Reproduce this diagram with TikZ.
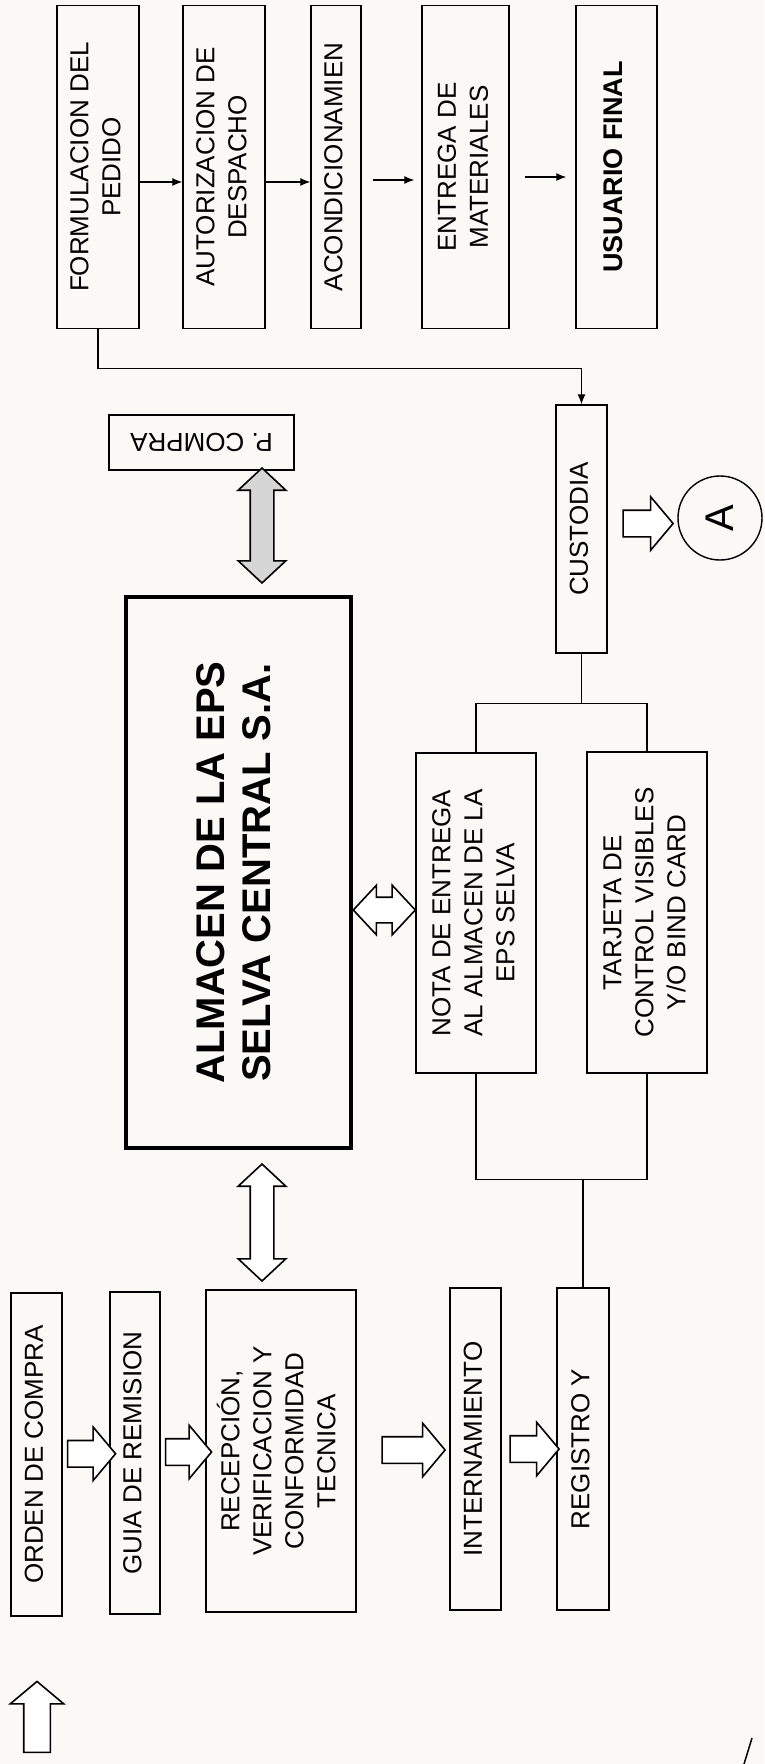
\documentclass[tikz,border=0pt]{standalone}
\usepackage{fontspec}
\setmainfont{Liberation Sans}
\usepackage{graphicx}
\usetikzlibrary{calc,shapes.arrows,arrows.meta}
\definecolor{papel}{RGB}{250,249,246}
\definecolor{grisfl}{RGB}{214,214,214}
\newcommand{\vtexto}[1]{\rotatebox{90}{\begin{tabular}{@{}c@{}}#1\end{tabular}}}
\begin{document}
\begin{tikzpicture}[x=1pt,y=-1pt]
\tikzstyle{caja} = [draw,line width=1.4pt,inner sep=0pt,font=\fontsize{26}{32}\selectfont] %cajas de texto
\tikzstyle{linea} = [line width=1.3pt]
\tikzstyle{punta} = [-{Latex[length=10pt,width=8pt]}]
\tikzstyle{flecha} = [draw,line width=1.6pt,fill=white,single arrow,single arrow head extend=13.5pt,single arrow tip angle=100,inner xsep=0pt,inner ysep=12.5pt]
\tikzstyle{dflecha} = [draw,line width=1.6pt,fill=white,double arrow,double arrow head extend=12pt,double arrow tip angle=94,inner xsep=0pt,inner ysep=11pt]
%fondo
\fill[papel] (0,0) rectangle (764,1764);
\useasboundingbox (0,0) rectangle (764,1764);
%fila de arriba
\node[caja,minimum width=82pt,minimum height=323pt] (formulacion) at (98,167) {\vtexto{FORMULACION DEL\\PEDIDO}};
\node[caja,minimum width=82pt,minimum height=323pt] (autorizacion) at (224,167) {\vtexto{AUTORIZACION DE\\DESPACHO}};
\node[caja,minimum width=50pt,minimum height=323pt] (acondicion) at (336,167) {\vtexto{ACONDICIONAMIEN}};
\node[caja,minimum width=87pt,minimum height=323pt] (entrega) at (465.5,167) {\vtexto{ENTREGA DE\\MATERIALES}};
\node[caja,minimum width=81pt,minimum height=323pt,font=\fontsize{27}{32}\selectfont\bfseries] (usuario) at (616.5,167) {\vtexto{USUARIO FINAL}};
\draw[linea,punta] ($(formulacion.east)+(0,15)$) -- ($(autorizacion.west)+(0,15)$);
\draw[linea,punta] ($(autorizacion.east)+(0,15)$) -- ($(acondicion.west)+(0,15)$);
\draw[linea,punta,shorten <=11pt,shorten >=7pt] ($(acondicion.east)+(0,13)$) -- ($(entrega.west)+(0,13)$);
\draw[linea,punta,shorten <=15pt,shorten >=9pt] ($(entrega.east)+(0,10)$) -- ($(usuario.west)+(0,10)$);
%almacen y documentos
\node[caja,minimum width=185pt,minimum height=55pt] (pcompra) at (201.5,442.5) {\rotatebox{180}{P. COMPRA}};
\node[caja,line width=4pt,minimum width=225pt,minimum height=551pt,font=\fontsize{40}{46}\selectfont\bfseries] (almacen) at (238.5,872.5) {\vtexto{ALMACEN DE LA EPS\\SELVA CENTRAL S.A.}};
\node[caja,minimum width=51pt,minimum height=248pt] (custodia) at (581.5,529) {\vtexto{CUSTODIA}};
\node[draw,circle,line width=1.4pt,minimum size=84pt,inner sep=0pt,font=\fontsize{40}{40}\selectfont] (conA) at (720,518) {\rotatebox{90}{A}};
\node[caja,minimum width=120pt,minimum height=320pt] (nota) at (476,913) {\vtexto{NOTA DE ENTREGA\\AL ALMACEN DE LA\\EPS SELVA}};
\node[caja,minimum width=120pt,minimum height=321pt] (tarjeta) at (647,912.5) {\vtexto{TARJETA DE\\CONTROL VISIBLES\\Y/O BIND CARD}};
\draw[linea,punta] (formulacion.south) -- ++(0,39) -| (custodia.north);
\draw[linea] (custodia.south) -- ++(0,50) coordinate (bsup);
\draw[linea] (nota.north) |- (bsup) -| (tarjeta.north);
\node[flecha,minimum height=50pt] (fcust) at ($(custodia.east)!0.5!(conA.west)$) {};
\node[dflecha,fill=grisfl,rotate=90,minimum height=115pt] (dcompra) at ($(almacen.north)+(23.5,-69.5)$) {};
\node[dflecha,inner ysep=12pt,minimum height=62pt] (dnota) at ($(nota.west)+(-31,-3)$) {};
%fila de abajo
\node[caja,minimum width=51pt,minimum height=323pt] (orden) at (36.5,1454.5) {\vtexto{ORDEN DE COMPRA}};
\node[caja,minimum width=50pt,minimum height=322pt] (guia) at (135,1453) {\vtexto{GUIA DE REMISION}};
\node[caja,minimum width=150pt,minimum height=322pt] (recepcion) at (281,1451) {\vtexto{RECEPCIÓN,\\VERIFICACION Y\\CONFORMIDAD\\TECNICA}};
\node[caja,minimum width=51pt,minimum height=322pt] (internamiento) at (475.5,1449) {\vtexto{INTERNAMIENTO}};
\node[caja,minimum width=52pt,minimum height=322pt] (registro) at (583,1449) {\vtexto{REGISTRO Y}};
\node[dflecha,rotate=90,minimum height=117pt] (drecep) at ($(almacen.south)+(23.5,72.5)$) {};
\node[flecha,minimum height=48pt] (f1) at ($(orden.east)!0.5!(guia.west)$) {};
\node[flecha,minimum height=46pt] (f2) at ($(guia.east)!0.5!(recepcion.west)$) {};
\node[flecha,minimum height=63pt] (f3) at ($(recepcion.east)!0.5!(internamiento.west)+(5,0)$) {};
\node[flecha,minimum height=49pt] (f4) at ($(internamiento.east)!0.5!(registro.west)$) {};
\draw[linea] (registro.north) -- ++(0,-108) coordinate (binf);
\draw[linea] (nota.south) |- (binf) -| (tarjeta.south);
%flecha suelta abajo
\node[flecha,rotate=90,minimum height=71pt] (fentrada) at (37,1722.5) {};
\draw[line width=1.5pt] (752,1738) -- (744,1764);
\end{tikzpicture}
\end{document}
